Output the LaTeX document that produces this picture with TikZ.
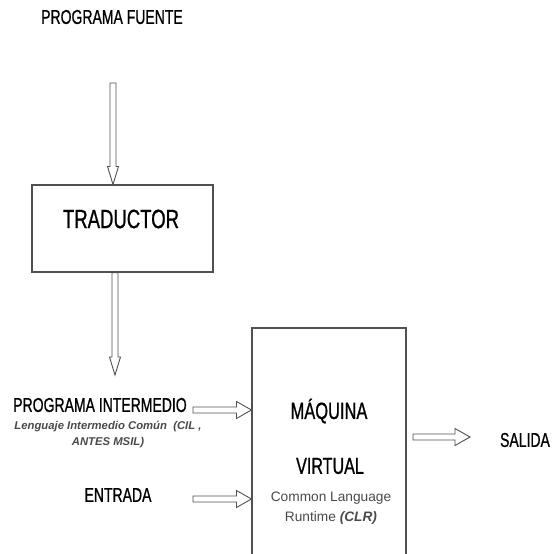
\documentclass[tikz,border=0pt]{standalone}
\usepackage{fontspec}
\setmainfont{Liberation Sans}
\newfontfamily\cond[FakeStretch=0.7,FakeBold=0.8]{Liberation Sans}
\usetikzlibrary{calc}
\definecolor{edge}{HTML}{505050}
\definecolor{greytxt}{HTML}{4A4A4A}
\tikzset{
  lbl/.style={inner sep=0pt, font=\cond\fontsize{20}{22}\selectfont, text=black},
  boxline/.style={draw=edge, line width=1.1pt, fill=none, inner sep=0pt},
  harrow/.style={draw=edge, line width=0.9pt, fill=white,
    to path={let \p1=(\tikztostart), \p2=(\tikztotarget) in
      (\x1,\y1+3pt) -- (\x2-15pt,\y1+3pt) -- (\x2-15pt,\y1+8.5pt) -- (\x2,\y1)
      -- (\x2-15pt,\y1-8.5pt) -- (\x2-15pt,\y1-3pt) -- (\x1,\y1-3pt) -- cycle}},
  varrow/.style={draw=edge, line width=0.9pt, fill=white,
    to path={let \p1=(\tikztostart), \p2=(\tikztotarget) in
      (\x1-3pt,\y1) -- (\x1-3pt,\y2+18pt) -- (\x1-5.5pt,\y2+18pt) -- (\x1,\y2)
      -- (\x1+5.5pt,\y2+18pt) -- (\x1+3pt,\y2+18pt) -- (\x1+3pt,\y1) -- cycle}}
}
\begin{document}
\begin{tikzpicture}[x=1pt,y=-1pt]
\clip (0,0) rectangle (553,554);
\fill[white] (0,0) rectangle (553,554);

% top label
\node[lbl] (pf) at (112,17) {PROGRAMA FUENTE};

% translator box
\node[boxline, minimum width=181pt, minimum height=87pt] (trad) at (122.5,228.5) {};
\node[lbl, font=\cond\fontsize{26.5}{28}\selectfont] (tradtxt) at (121,219) {TRADUCTOR};

% virtual machine box (open at the bottom, beyond the picture)
\node[boxline, minimum width=154pt, minimum height=272pt] (vm) at (329,464) {};
\node[lbl, font=\cond\fontsize{23.5}{26}\selectfont] (maq) at (329,411) {MÁQUINA};
\node[lbl, font=\cond\fontsize{23}{26}\selectfont] (virt) at (330,466) {VIRTUAL};
\node[inner sep=0pt, align=center, text=greytxt, font=\fontsize{13.7}{20}\selectfont] (clr) at (331,508)
  {Common Language\\Runtime \textbf{\textit{(CLR)}}};

% left labels
\node[lbl] (pi) at (100,405) {PROGRAMA INTERMEDIO};
\node[inner sep=0pt, align=center, text=greytxt, font=\bfseries\itshape\fontsize{11.3}{16}\selectfont] (cil) at (108,435)
  {Lenguaje Intermedio Común \ (CIL ,\\ANTES MSIL)};
\node[lbl] (ent) at (118,495) {ENTRADA};

% right label
\node[lbl] (sal) at (525,440) {SALIDA};

% connector end points
\coordinate (a1s) at (113,83);
\coordinate (a2e) at (115,375);
\coordinate (piA) at (193,410);
\coordinate (enA) at (193,499);
\coordinate (saA) at (413,437);
\coordinate (saB) at (470,437);

% arrows
\draw[varrow] (a1s) to (a1s |- trad.north);
\draw[varrow] (a2e |- trad.south) to (a2e);
\draw[harrow] (piA) to (piA -| vm.west);
\draw[harrow] (enA) to (enA -| vm.west);
\draw[harrow] (saA) to (saB);
\end{tikzpicture}
\end{document}
